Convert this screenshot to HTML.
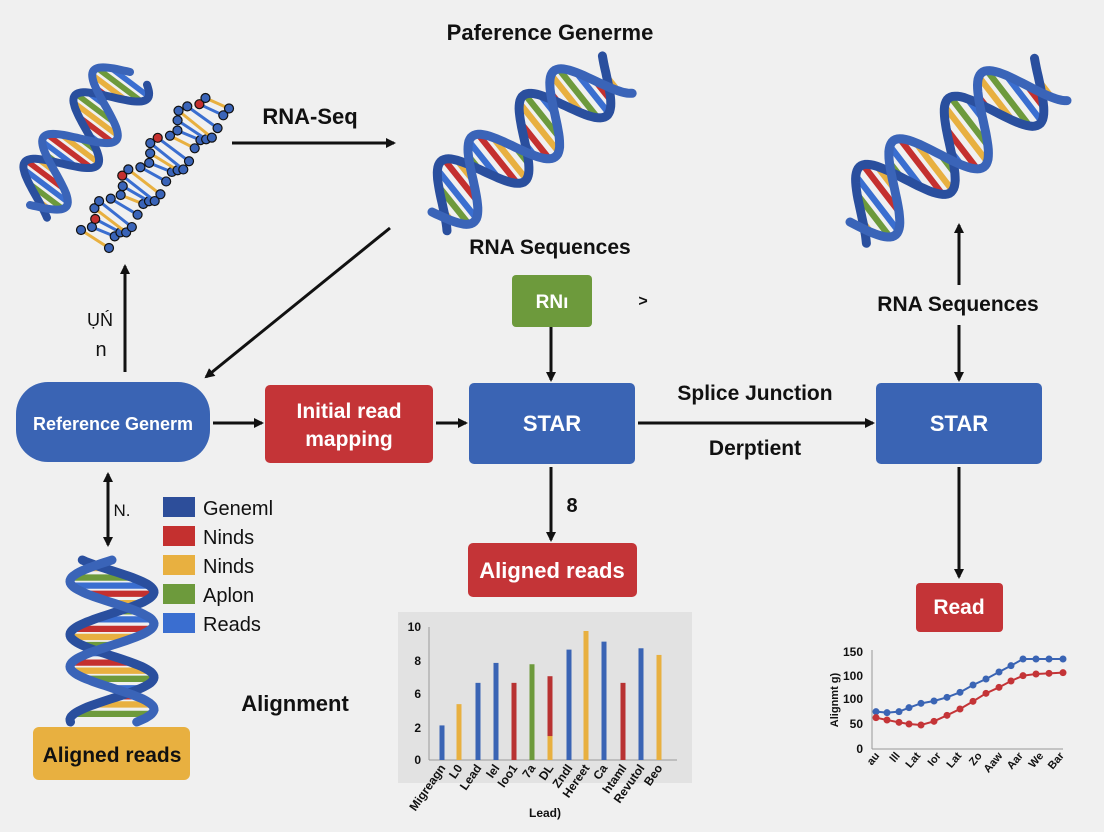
<!DOCTYPE html>
<html><head><meta charset="utf-8"><style>
html,body{margin:0;padding:0;background:#f0f0f0;}
#c{position:relative;width:1104px;height:832px;overflow:hidden;background:#f0f0f0;font-family:"Liberation Sans",Arial,sans-serif;}
svg{position:absolute;left:0;top:0;}
</style></head><body><div id="c">
<svg id="s" width="1104" height="832" viewBox="0 0 1104 832" xmlns="http://www.w3.org/2000/svg">
<defs>
<marker id="ah" markerWidth="10" markerHeight="10" refX="8" refY="5" orient="auto" markerUnits="userSpaceOnUse"><path d="M0,0 L10,5 L0,10 z" fill="#111"/></marker>
<marker id="ah2" markerWidth="10" markerHeight="10" refX="2" refY="5" orient="auto" markerUnits="userSpaceOnUse"><path d="M10,0 L0,5 L10,10 z" fill="#111"/></marker>
</defs>
<g id="dna"></g>
<g font-family="Liberation Sans, Arial, sans-serif" font-weight="bold" fill="#111">
<text x="550" y="40" font-size="22" text-anchor="middle">Paference Generme</text>
<text x="310" y="124" font-size="22" text-anchor="middle">RNA-Seq</text>
<text x="550" y="254" font-size="21" text-anchor="middle">RNA Sequences</text>
<text x="958" y="311" font-size="21" text-anchor="middle">RNA Sequences</text>
<text x="643" y="306" font-size="16" text-anchor="middle">&gt;</text>
<text x="100" y="326" font-size="18" text-anchor="middle" font-weight="normal">ỤŃ</text>
<text x="101" y="356" font-size="20" text-anchor="middle" font-weight="normal">n</text>
<text x="755" y="400" font-size="21" text-anchor="middle">Splice Junction</text>
<text x="755" y="455" font-size="21" text-anchor="middle">Derptient</text>
<text x="572" y="512" font-size="20" text-anchor="middle">8</text>
<text x="122" y="516" font-size="17" text-anchor="middle" font-weight="normal">N.</text>
<text x="295" y="711" font-size="22" text-anchor="middle">Alignment</text>
</g>
<g stroke="#111" stroke-width="3" fill="none">
<line x1="232" y1="143" x2="394" y2="143" marker-end="url(#ah)"/>
<line x1="390" y1="228" x2="206" y2="377" marker-end="url(#ah)"/>
<line x1="125" y1="372" x2="125" y2="266" marker-end="url(#ah)"/>
<line x1="213" y1="423" x2="262" y2="423" marker-end="url(#ah)"/>
<line x1="436" y1="423" x2="466" y2="423" marker-end="url(#ah)"/>
<line x1="551" y1="327" x2="551" y2="380" marker-end="url(#ah)"/>
<line x1="551" y1="467" x2="551" y2="540" marker-end="url(#ah)"/>
<line x1="638" y1="423" x2="873" y2="423" marker-end="url(#ah)"/>
<line x1="959" y1="285" x2="959" y2="225" marker-end="url(#ah)"/>
<line x1="959" y1="325" x2="959" y2="380" marker-end="url(#ah)"/>
<line x1="959" y1="467" x2="959" y2="577" marker-end="url(#ah)"/>
<line x1="108" y1="474" x2="108" y2="545" marker-start="url(#ah2)" marker-end="url(#ah)"/>
</g>
<rect x="16" y="382" width="194" height="80" rx="32" fill="#3a64b4"/>
<text x="113" y="430" font-size="18" font-weight="bold" fill="#fff" text-anchor="middle">Reference Generm</text>
<rect x="265" y="385" width="168" height="78" rx="5" fill="#c43437"/>
<text x="349" y="418" font-size="21" font-weight="bold" fill="#fff" text-anchor="middle">Initial read</text>
<text x="349" y="446" font-size="21" font-weight="bold" fill="#fff" text-anchor="middle">mapping</text>
<rect x="469" y="383" width="166" height="81" rx="5" fill="#3a64b4"/>
<text x="552" y="431" font-size="22" font-weight="bold" fill="#fff" text-anchor="middle">STAR</text>
<rect x="876" y="383" width="166" height="81" rx="5" fill="#3a64b4"/>
<text x="959" y="431" font-size="22" font-weight="bold" fill="#fff" text-anchor="middle">STAR</text>
<rect x="512" y="275" width="80" height="52" rx="4" fill="#6d9a3c"/>
<text x="552" y="308" font-size="19" font-weight="bold" fill="#fff" text-anchor="middle">RNı</text>
<rect x="468" y="543" width="169" height="54" rx="5" fill="#c43437"/>
<text x="552" y="578" font-size="22" font-weight="bold" fill="#fff" text-anchor="middle">Aligned reads</text>
<rect x="916" y="583" width="87" height="49" rx="4" fill="#c43437"/>
<text x="959" y="614" font-size="21" font-weight="bold" fill="#fff" text-anchor="middle">Read</text>
<rect x="33" y="727" width="157" height="53" rx="6" fill="#e8b040"/>
<text x="112" y="762" font-size="21" font-weight="bold" fill="#111" text-anchor="middle">Aligned reads</text>
<g font-size="20" fill="#111">
<rect x="163" y="497" width="32" height="20" fill="#2d4e9a"/><text x="203" y="515">Geneml</text>
<rect x="163" y="526" width="32" height="20" fill="#c4302f"/><text x="203" y="544">Ninds</text>
<rect x="163" y="555" width="32" height="20" fill="#e8b040"/><text x="203" y="573">Ninds</text>
<rect x="163" y="584" width="32" height="20" fill="#6d9a3c"/><text x="203" y="602">Aplon</text>
<rect x="163" y="613" width="32" height="20" fill="#3a6ed0"/><text x="203" y="631">Reads</text>
</g>
<rect x="398" y="612" width="294" height="171" fill="#e2e2e2"/>
<g stroke="#999" stroke-width="1"><line x1="429" y1="627" x2="429" y2="760"/><line x1="429" y1="760" x2="677" y2="760"/></g>
<g font-size="12" font-weight="bold" fill="#111" text-anchor="end">
<text x="421" y="631">10</text><text x="421" y="665">8</text><text x="421" y="698">6</text><text x="421" y="732">2</text><text x="421" y="764">0</text>
</g>
<g id="bars"></g>
<g font-size="12" font-weight="bold" fill="#111" id="blab"></g>
<text x="545" y="817" font-size="12" font-weight="bold" fill="#111" text-anchor="middle">Lead)</text>
<g stroke="#999" stroke-width="1"><line x1="872" y1="650" x2="872" y2="749"/><line x1="872" y1="749" x2="1063" y2="749"/></g>
<g font-size="12" font-weight="bold" fill="#111" text-anchor="end">
<text x="863" y="656">150</text><text x="863" y="680">100</text><text x="863" y="703">100</text><text x="863" y="728">50</text><text x="863" y="753">0</text>
</g>
<text transform="translate(838,700) rotate(-90)" font-size="11" font-weight="bold" text-anchor="middle" fill="#111">Alignmt g)</text>
<g id="lines"></g>
<g font-size="11" font-weight="bold" fill="#111" id="llab"></g>
</svg>
<script>
var NS="http://www.w3.org/2000/svg";
function el(p,t,a){var e=document.createElementNS(NS,t);for(var k in a)e.setAttribute(k,a[k]);p.appendChild(e);return e;}
var dna=document.getElementById('dna');
var cols=['#c4302f','#e8b040','#6d9a3c','#3a6ed0'];
function helix(x1,y1,x2,y2,amp,turns,sw){
 var dx=x2-x1,dy=y2-y1,L=Math.sqrt(dx*dx+dy*dy),ux=dx/L,uy=dy/L,nx=-uy,ny=ux,N=120;
 var g=el(dna,'g',{});
 var s1=[],s2=[];
 for(var i=0;i<=N;i++){var t=i/N,ph=t*turns*2*Math.PI,a=amp*Math.sin(ph),b=amp*Math.sin(ph+Math.PI*0.75);
  var px=x1+dx*t,py=y1+dy*t;s1.push([px+nx*a,py+ny*a]);s2.push([px+nx*b,py+ny*b]);}
 var R=Math.round(turns*10);
 for(var j=1;j<R;j++){var k=Math.round(j*N/R);
  el(g,'line',{x1:s1[k][0],y1:s1[k][1],x2:s2[k][0],y2:s2[k][1],stroke:cols[j%4],'stroke-width':sw*0.7});}
 function pl(s){return s.map(function(p){return p[0].toFixed(1)+','+p[1].toFixed(1)}).join(' ');}
 el(g,'polyline',{points:pl(s2),fill:'none',stroke:'#2a4f9e','stroke-width':sw,'stroke-linecap':'round'});
 el(g,'polyline',{points:pl(s1),fill:'none',stroke:'#3a64b8','stroke-width':sw,'stroke-linecap':'round'});
}
helix(432,212,612,68,34,2.2,9);
helix(850,222,1045,72,38,2.2,9);
helix(30,205,130,72,30,2.0,8);
helix(112,560,112,722,42,1.9,9);
for(var i=0;i<22;i++){var t=i/21,cx=95+120*t,cy=240-135*t,o=18*Math.sin(i*1.3);
 var a=[cx-14+o*0.3,cy-10+o*0.2],b=[cx+14,cy+8-o*0.3];
 el(dna,'line',{x1:a[0],y1:a[1],x2:b[0],y2:b[1],stroke:i%3==0?'#e8b040':'#3a6ed0','stroke-width':3});
 el(dna,'circle',{cx:a[0],cy:a[1],r:4.5,fill:i%6==2?'#c4302f':'#3a64b8',stroke:'#111','stroke-width':1.2});
 el(dna,'circle',{cx:b[0],cy:b[1],r:4.5,fill:'#3a64b8',stroke:'#111','stroke-width':1.2});}
var bx=[442,459,478,496,514,532,550,569,586,604,623,641,659];
var bv=[2.6,4.2,5.8,7.3,5.8,7.2,6.3,8.3,9.7,8.9,5.8,8.4,7.9];
var bc=['#3a64b4','#e8b040','#3a64b4','#3a64b4','#b83232','#6d9a3c','#b83232','#3a64b4','#e8b040','#3a64b4','#b83232','#3a64b4','#e8b040'];
var bars=document.getElementById('bars');
function vy(v){return 760-v*13.3;}
for(var i=0;i<13;i++){el(bars,'rect',{x:bx[i]-2.5,y:vy(bv[i]),width:5,height:760-vy(bv[i]),fill:bc[i]});}
el(bars,'rect',{x:547.5,y:vy(1.8),width:5,height:760-vy(1.8),fill:'#e8b040'});
var bl=['Migreagn','L0','Lead','lel','loo1','7a','DL','Zndl','Hereet','Ca','htaml','Revutol','Beo'];
var blab=document.getElementById('blab');
for(var i=0;i<13;i++){var t=el(blab,'text',{transform:'translate('+(bx[i]+4)+',768) rotate(-55)','text-anchor':'end'});t.textContent=bl[i];}
var lx=[876,887,899,909,921,934,947,960,973,986,999,1011,1023,1036,1049,1063];
var bz=[215,218,215,203,190,183,172,157,135,117,96,77,57,57,57,57];
var rz=[233,240,247,252,255,244,226,207,184,160,142,123,107,102,100,98];
var lg=document.getElementById('lines');
function ser(z,c){var pts=lx.map(function(x,i){return x+','+(640+z[i]/3)}).join(' ');
 el(lg,'polyline',{points:pts,fill:'none',stroke:c,'stroke-width':2});
 lx.forEach(function(x,i){el(lg,'circle',{cx:x,cy:640+z[i]/3,r:3.5,fill:c});});}
ser(bz,'#3a64b4');ser(rz,'#c43437');
var ll=['au','lll','Lat','Ior','Lat','Zo','Aaw','Aar','We','Bar'];
var llab=document.getElementById('llab');
for(var i=0;i<10;i++){var t=el(llab,'text',{transform:'translate('+(880+i*20.5)+',756) rotate(-50)','text-anchor':'end'});t.textContent=ll[i];}
</script>
</div></body></html>
